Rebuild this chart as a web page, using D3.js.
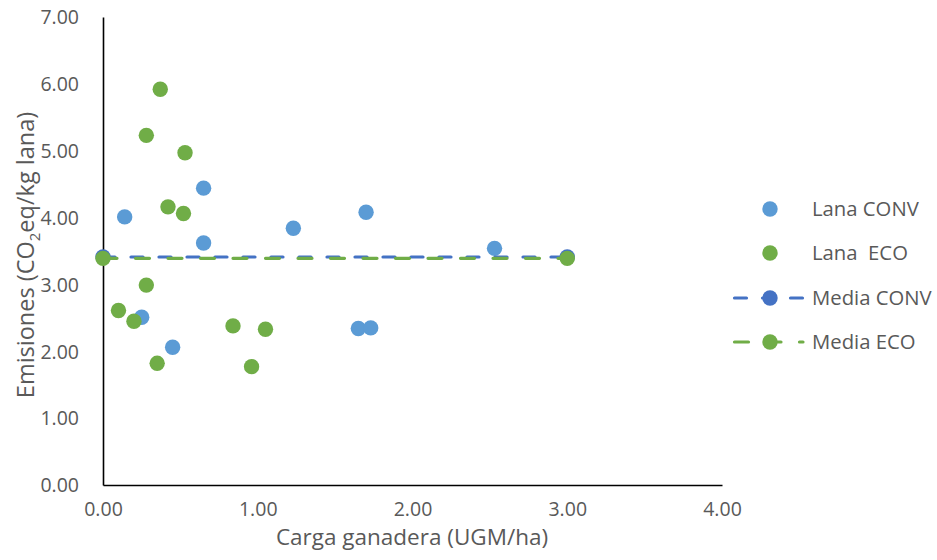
<!DOCTYPE html>
<html>
<head>
<meta charset="utf-8">
<script src="https://cdn.jsdelivr.net/npm/d3@7"></script>
<style>
  html, body { margin: 0; padding: 0; background: #fff; }
  svg { display: block; font-family: "Open Sans", "Liberation Sans", sans-serif; }
  .lbl { white-space: pre; }
</style>
</head>
<body>
<svg id="chart" width="937" height="560"></svg>
<script>
// Lana CONV samples (stocking rate UGM/ha, emissions)
const convX = [0.14, 0.65, 0.65, 1.23, 1.70, 2.53, 1.65, 1.73, 0.25, 0.45];
const convY = [4.01, 4.44, 3.62, 3.84, 4.08, 3.54, 2.34, 2.35, 2.51, 2.06];
// Lana ECO samples
const ecoX = [0.37, 0.28, 0.53, 0.42, 0.52, 0.28, 0.10, 0.20, 0.84, 1.05, 0.35, 0.96];
const ecoY = [5.92, 5.23, 4.97, 4.16, 4.06, 2.99, 2.61, 2.45, 2.38, 2.33, 1.82, 1.77];
// Mean lines, drawn across the stocking-rate range
const meanX = [0, 3];
const meanConv = [3.41, 3.41];
const meanEco = [3.39, 3.39];
// Axis ticks
const xTicks = [0, 1, 2, 3, 4];
const yTicks = [0, 1, 2, 3, 4, 5, 6, 7];
const seriesNames = ["Lana CONV", "Lana  ECO", "Media CONV", "Media ECO"];

const C_CONV = "#5B9BD5", C_ECO = "#70AD47", C_MCONV = "#4472C4", C_MECO = "#70AD47";
const TXT = "#595959";
const R = 7.7;

const svg = d3.select("#chart");
const x = d3.scaleLinear().domain([0, 4]).range([103, 722]);
const y = d3.scaleLinear().domain([0, 7]).range([485, 17]);

// Axes
const yAxis = svg.append("g").attr("transform", `translate(${x(0)},0)`)
  .call(d3.axisLeft(y).tickValues(yTicks).tickSize(0).tickPadding(24).tickFormat(d3.format(".2f")));
const xAxis = svg.append("g").attr("transform", `translate(0,${y(0)})`)
  .call(d3.axisBottom(x).tickValues(xTicks).tickSize(0).tickPadding(17).tickFormat(d3.format(".2f")));
[xAxis, yAxis].forEach(g => {
  g.select(".domain").attr("stroke", "#000").attr("stroke-width", 1.6);
  g.selectAll("text").attr("fill", TXT).attr("font-size", 19.5)
    .attr("font-family", "'Open Sans', sans-serif");
});
yAxis.selectAll("text").attr("dy", "0.35em");
xAxis.selectAll("text").attr("dy", "0.71em");

// Axis titles
svg.append("text").attr("x", 412).attr("y", 545).attr("text-anchor", "middle")
  .attr("fill", TXT).attr("font-size", 22.5).text("Carga ganadera (UGM/ha)");
const yt = svg.append("text").attr("transform", "translate(34,255) rotate(-90)")
  .attr("text-anchor", "middle").attr("fill", TXT).attr("font-size", 23.5);
yt.append("tspan").text("Emisiones (CO");
yt.append("tspan").attr("font-size", 15).attr("dy", 6).text("2");
yt.append("tspan").attr("dy", -6).text("eq/kg lana)");

// Scatter series
function dots(xs, ys, color) {
  svg.append("g").selectAll("circle").data(xs.map((v, i) => [v, ys[i]])).join("circle")
    .attr("cx", d => x(d[0])).attr("cy", d => y(d[1])).attr("r", R).attr("fill", color);
}
dots(convX, convY, C_CONV);
dots(ecoX, ecoY, C_ECO);

// Mean lines with end markers
function meanLine(xs, ys, color, dash) {
  const pts = xs.map((v, i) => [v, ys[i]]);
  svg.append("path").datum(pts)
    .attr("d", d3.line().x(d => x(d[0])).y(d => y(d[1])))
    .attr("fill", "none").attr("stroke", color).attr("stroke-width", 3.2)
    .attr("stroke-linecap", "round").attr("stroke-dasharray", dash);
  dots(xs, ys, color);
}
meanLine(meanX, meanConv, C_MCONV, "12,16");
meanLine(meanX, meanEco, C_MECO, "14,18.5");

// Legend
const legY = [209, 253, 298, 342];
const lg = svg.append("g");
const legColors = [C_CONV, C_ECO, C_MCONV, C_MECO];
const legDash = [null, null, "12,16", "14,18.5"];
seriesNames.forEach((name, i) => {
  if (legDash[i]) {
    lg.append("line").attr("x1", 734.5).attr("x2", 803).attr("y1", legY[i]).attr("y2", legY[i])
      .attr("stroke", legColors[i]).attr("stroke-width", 3.2)
      .attr("stroke-linecap", "round").attr("stroke-dasharray", legDash[i]);
  }
  lg.append("circle").attr("cx", 770).attr("cy", legY[i]).attr("r", R).attr("fill", legColors[i]);
  lg.append("text").attr("class", "lbl").attr("x", 812).attr("y", legY[i]).attr("dy", "0.35em")
    .attr("fill", TXT).attr("font-size", 20.3).text(name);
});
</script>
</body>
</html>
